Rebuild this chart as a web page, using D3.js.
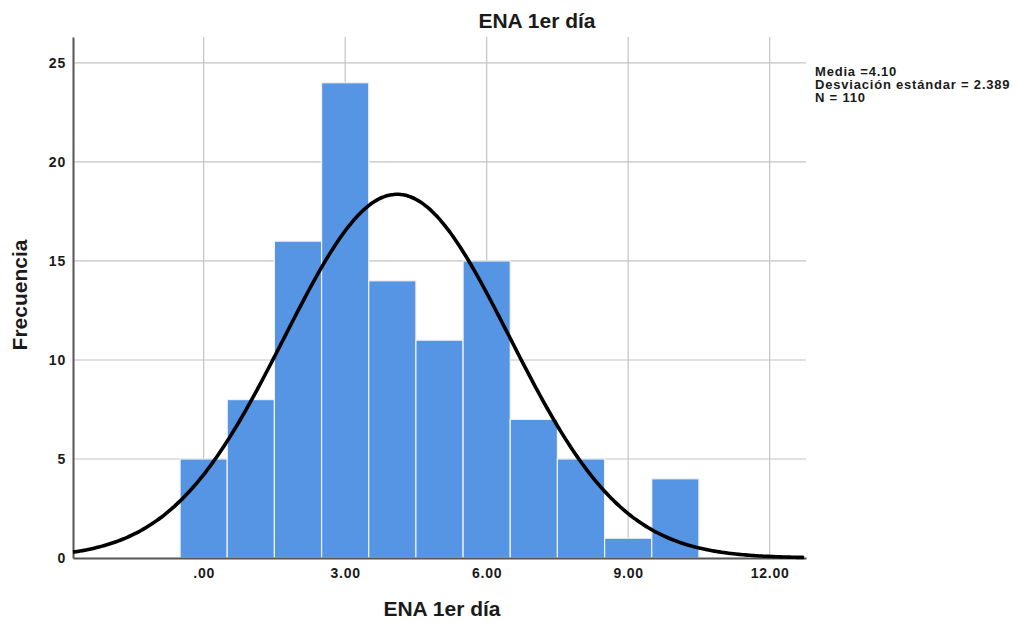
<!DOCTYPE html>
<html>
<head>
<meta charset="utf-8">
<script src="https://cdn.jsdelivr.net/npm/d3@7"></script>
<style>
  body { margin: 0; background: #fff; }
  text { font-family: "Liberation Sans", Arial, sans-serif; }
</style>
</head>
<body>
<div id="chart"></div>
<script>
// histogram data (bin centres, width 1)
const binCenters = [0, 1, 2, 3, 4, 5, 6, 7, 8, 9, 10]
const binCounts = [5, 8, 16, 24, 14, 11, 15, 7, 5, 1, 4]
const xTicks = [0, 3, 6, 9, 12]
const yTicks = [0, 5, 10, 15, 20, 25]
const legendLines = ["Media =4.10", "Desviación estándar = 2.389", "N = 110"]
const mean = 4.10, sd = 2.389, n = 110, binWidth = 1

var margin = {top: 37, right: 212, bottom: 64, left: 73},
    width = 1018 - margin.left - margin.right,
    height = 622 - margin.top - margin.bottom;

var root = d3.select("#chart")
    .append("svg")
    .attr("width", 1018)
    .attr("height", 622)

var svg = root.append("g")
    .attr("transform", "translate(" + margin.left + "," + margin.top + ")");

var x = d3.scaleLinear()
    .domain([-2.77, 12.77])
    .range([0, width])

var y = d3.scaleLinear()
    .domain([0, 26.31])
    .range([height, 0])

// grid lines
svg.append("g")
    .selectAll("line")
    .data(xTicks)
    .enter()
    .append("line")
    .attr("x1", d => x(d)).attr("x2", d => x(d))
    .attr("y1", 0).attr("y2", height)
    .attr("stroke", "#c4c4c4")
    .attr("stroke-width", 1.2)

svg.append("g")
    .selectAll("line")
    .data(yTicks.filter(d => d > 0))
    .enter()
    .append("line")
    .attr("x1", 0).attr("x2", width)
    .attr("y1", d => y(d)).attr("y2", d => y(d))
    .attr("stroke", "#c4c4c4")
    .attr("stroke-width", 1.2)

// bars
svg.selectAll("bars")
    .data(binCenters)
    .enter()
    .append("rect")
    .attr("x", (d) => x(d - binWidth / 2))
    .attr("y", (d, i) => y(binCounts[i]))
    .attr("width", x(binWidth) - x(0))
    .attr("height", (d, i) => y(0) - y(binCounts[i]))
    .style("fill", "#5595e4")
    .attr("stroke", "#f2f2f2")
    .attr("stroke-width", 1.2)

// axes
var xAxis = svg.append("g")
    .attr("transform", "translate(0," + height + ")")
    .call(d3.axisBottom(x).tickValues(xTicks).tickSize(0).tickPadding(10)
        .tickFormat(d => d === 0 ? ".00" : d3.format(".2f")(d)))
var yAxis = svg.append("g")
    .call(d3.axisLeft(y).tickValues(yTicks).tickSize(0).tickPadding(7))

for (const ax of [xAxis, yAxis]) {
    ax.select(".domain").attr("stroke", "#555").attr("stroke-width", 2)
    ax.selectAll("text")
        .style("font-size", "14px")
        .style("font-weight", "bold")
        .style("letter-spacing", "0.8px")
        .style("fill", "#1a1a1a")
}

// normal curve
const curvePts = d3.range(-2.77, 12.78, 0.05)
var line = d3.line()
    .x(d => x(d))
    .y(d => y(n * binWidth / (sd * Math.sqrt(2 * Math.PI)) * Math.exp(-0.5 * ((d - mean) / sd) ** 2)))
    .curve(d3.curveBasis)

svg.append("path")
    .datum(curvePts)
    .attr("d", line)
    .attr("fill", "none")
    .attr("stroke", "#000")
    .attr("stroke-width", 3.6)

// titles
root.append("text")
    .text("ENA 1er día")
    .attr("x", 537).attr("y", 28)
    .attr("text-anchor", "middle")
    .style("font-size", "21px")
    .style("font-weight", "bold")
    .style("fill", "#1a1a1a")

root.append("text")
    .text("ENA 1er día")
    .attr("x", 442).attr("y", 616)
    .attr("text-anchor", "middle")
    .style("font-size", "21px")
    .style("font-weight", "bold")
    .style("fill", "#1a1a1a")

root.append("text")
    .text("Frecuencia")
    .attr("transform", "translate(27,295) rotate(-90)")
    .attr("text-anchor", "middle")
    .style("font-size", "21px")
    .style("font-weight", "bold")
    .style("fill", "#1a1a1a")

// stats legend
root.append("g")
    .selectAll("text")
    .data(legendLines)
    .enter()
    .append("text")
    .text(d => d)
    .attr("x", 815)
    .attr("y", (d, i) => 76 + i * 13)
    .style("font-size", "13px")
    .style("font-weight", "bold")
    .style("letter-spacing", "0.8px")
    .style("fill", "#1a1a1a")
</script>
</body>
</html>
